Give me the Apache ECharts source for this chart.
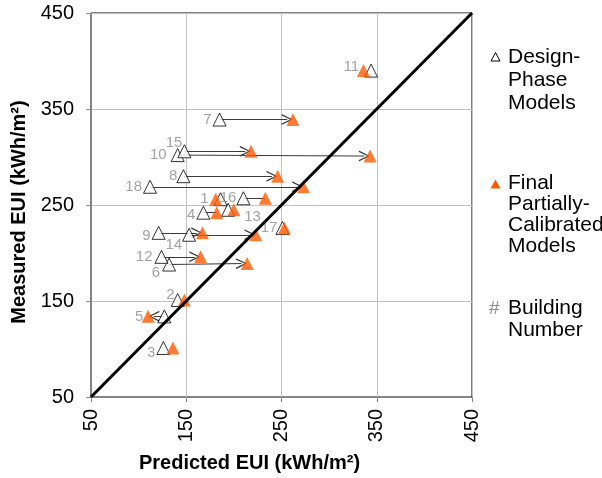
<!DOCTYPE html>
<html><head><meta charset="utf-8">
<script src="https://cdn.jsdelivr.net/npm/echarts@6/dist/echarts.min.js"></script>
<style>html,body{margin:0;padding:0;background:#fff}#c{width:602px;height:478px}</style>
</head><body><div id="c"></div>
<script>
// ---- data ----
const buildings = [1,2,3,4,5,6,7,8,9,10,11,12,13,14,15,16,17,18];
const designX = [186,141,126,168,127,132,185,147,121,141,344,124,194,153,148,210,251,112];
const designY = [256,151,101,242,134,188,339,280,221,302,390,196,245,219,306,257,226,269];
const finalX  = [181,148,136,182,110,214,262,246,167,343,336,165,200,223,218,233,253,273];
const finalY  = [256,151,101,242,134,189,339,280,221,301,390,196,245,219,306,257,226,269];
const arrowBuildings = [5,6,7,8,9,10,12,14,15,18];
const connectorBuildings = [4,16];
const diagonal = [50,450];
const axisMin = 50, axisMax = 450, axisStep = 100;

// ---- styling ----
const FONT = '"Liberation Sans", Arial, sans-serif';
const ORANGE = '#ff5a00';
const arrowGap = 6;
const chevron = 'path://M0,11 L4,0 L8,11 L6.9,11 L4,2.6 L1.1,11 Z';
const labelCfg = {
  1:{distance:5}, 2:{distance:-4, offset:[0,-5]}, 3:{distance:1, offset:[0,5]},
  4:{distance:1, offset:[0,2]}, 5:{distance:14}, 6:{distance:2, offset:[0,8]},
  7:{distance:1}, 8:{distance:-1}, 9:{distance:1, offset:[0,3]}, 10:{distance:4},
  11:{distance:5, offset:[0,-4]}, 12:{distance:2}, 13:{position:'right', distance:9, offset:[0,7]},
  14:{distance:2, offset:[2,10]}, 15:{distance:5, offset:[10,-8]}, 16:{distance:0},
  17:{distance:-2}, 18:{distance:1}
};

const idx = b => buildings.indexOf(b);
const designData = buildings.map((b,i) => {
  const c = labelCfg[b] || {};
  return {value:[designX[i], designY[i]], name:String(b),
    label:{position:c.position||'left', distance:c.distance==null?5:c.distance, offset:c.offset||[0,0]}};
});
const finalData = buildings.map((b,i) => [finalX[i], finalY[i]]);
const arrowData = arrowBuildings.map(b => {
  const i = idx(b), dir = Math.sign(finalX[i]-designX[i]);
  return {coords:[[designX[i], designY[i]], [finalX[i]-dir*arrowGap, finalY[i]]]};
});
const connectorData = connectorBuildings.map(b => {
  const i = idx(b);
  return {coords:[[designX[i], designY[i]], [finalX[i], finalY[i]]]};
});

const axisCommon = {
  type:'value', min:axisMin, max:axisMax, interval:axisStep,
  axisLine:{show:true, lineStyle:{color:'#878787', width:1}},
  axisTick:{show:true, length:5, lineStyle:{color:'#878787'}},
  splitLine:{show:true, lineStyle:{color:'#c3c3c3', width:1}},
  nameLocation:'middle'
};

const chart = echarts.init(document.getElementById('c'), null, {renderer:'canvas'});
chart.setOption({
  animation:false,
  backgroundColor:'#fff',
  grid:{left:91, right:130, top:13, bottom:81, show:true, borderColor:'#000', borderWidth:1, backgroundColor:'transparent'},
  xAxis:Object.assign({}, axisCommon, {
    name:'Predicted EUI (kWh/m²)', nameGap:56,
    nameTextStyle:{fontFamily:FONT, fontSize:20, fontWeight:'bold', color:'#000', padding:[0,64,0,0]},
    axisLabel:{rotate:90, margin:12, fontFamily:FONT, fontSize:20, color:'#000'}
  }),
  yAxis:Object.assign({}, axisCommon, {
    name:'Measured EUI (kWh/m²)', nameGap:58,
    nameTextStyle:{fontFamily:FONT, fontSize:20, fontWeight:'bold', color:'#000', padding:[0,14,0,0]},
    axisLabel:{margin:17, fontFamily:FONT, fontSize:20, color:'#000'}
  }),
  series:[
    {type:'lines', coordinateSystem:'cartesian2d', z:1, silent:true,
     data:arrowData, symbol:['none', chevron], symbolSize:[9,11],
     lineStyle:{color:'#3a3a3a', width:1, opacity:1}},
    {type:'lines', coordinateSystem:'cartesian2d', z:1, silent:true,
     data:connectorData, symbol:['none','none'],
     lineStyle:{color:'#3a3a3a', width:1, opacity:1}},
    {name:'Design-Phase Models', type:'scatter', z:3, symbol:'triangle', symbolSize:13,
     itemStyle:{color:'#fff', borderColor:'#000', borderWidth:1},
     label:{show:true, formatter:p=>p.name, fontFamily:FONT, fontSize:15, color:'#8c8c8c'},
     data:designData},
    {name:'Final Partially-Calibrated Models', type:'scatter', z:4, symbol:'triangle', symbolSize:13,
     itemStyle:{color:ORANGE}, data:finalData},
    {type:'line', z:5, silent:true, symbol:'none', data:[[diagonal[0],diagonal[0]],[diagonal[1],diagonal[1]]],
     lineStyle:{color:'#000', width:3}}
  ],
  graphic:[
    {type:'polygon', shape:{points:[[491,61],[495.5,52.5],[500,61]]}, style:{fill:'#fff', stroke:'#000', lineWidth:1}},
    {type:'text', left:508, top:46, style:{text:'Design-\nPhase\nModels', font:'21px '+FONT, fill:'#000', lineHeight:23}},
    {type:'polygon', shape:{points:[[490.5,188.5],[495.5,179.5],[500.5,188.5]]}, style:{fill:ORANGE}},
    {type:'text', left:508, top:173, style:{text:'Final\nPartially-\nCalibrated\nModels', font:'21px '+FONT, fill:'#000', lineHeight:21}},
    {type:'text', left:489, top:299, style:{text:'#', font:'19px '+FONT, fill:'#8c8c8c'}},
    {type:'text', left:508, top:297, style:{text:'Building\nNumber', font:'21px '+FONT, fill:'#000', lineHeight:22}}
  ]
});
</script></body></html>
